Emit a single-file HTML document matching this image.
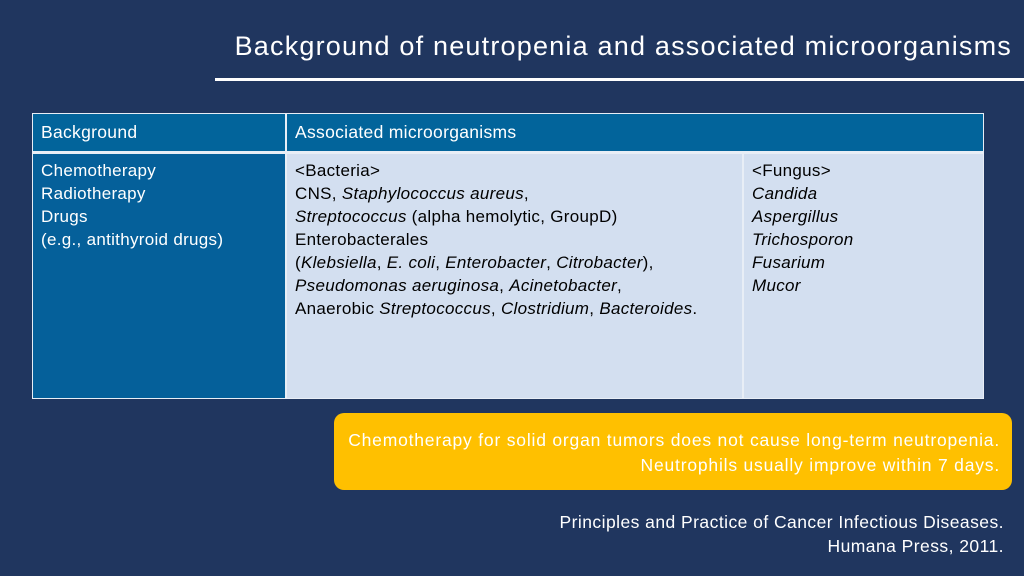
<!DOCTYPE html><html><head><style>
body{margin:0;width:1024px;height:576px;background:#20365f;position:relative;overflow:hidden;font-family:"Liberation Sans",sans-serif;color:#fff}
.t{position:absolute;right:12px;top:31px;font-size:27px;letter-spacing:1.2px;white-space:nowrap}
.u{position:absolute;left:215px;top:78px;width:809px;height:3px;background:#fff}
.c{position:absolute;box-sizing:border-box;font-size:17px;letter-spacing:0.3px;line-height:23px;padding:5px 8px;white-space:nowrap}
i{font-style:italic}
.y{position:absolute;left:334px;top:413px;width:678px;height:77px;background:#ffc000;border-radius:10px;box-sizing:border-box;text-align:right;padding:15px 12px;font-size:17.5px;letter-spacing:0.8px;line-height:25px;white-space:nowrap}
.r{position:absolute;right:20px;top:510px;text-align:right;font-size:17.5px;letter-spacing:0.45px;line-height:24px;white-space:nowrap}
</style></head><body>
<div class="t">Background of neutropenia and associated microorganisms</div>
<div class="u"></div>
<div style="position:absolute;left:32px;top:113px;width:952px;height:286px;background:#e8eef6"></div>
<div class="c" style="left:33px;top:114px;width:252px;height:37px;background:#02649b;padding-top:7px;font-size:17.5px;letter-spacing:0.3px">Background</div>
<div class="c" style="left:287px;top:114px;width:696px;height:37px;background:#02649b;padding-top:7px;font-size:17.5px;letter-spacing:0.3px">Associated microorganisms</div>
<div class="c" style="left:33px;top:154px;width:252px;height:244px;background:#05609a">Chemotherapy<br>Radiotherapy<br>Drugs<br>(e.g., antithyroid drugs)</div>
<div class="c" style="left:287px;top:154px;width:455px;height:244px;background:#d3dff0;color:#000">&lt;Bacteria&gt;<br>CNS, <i>Staphylococcus aureus</i>,<br><i>Streptococcus</i> (alpha hemolytic, GroupD)<br>Enterobacterales<br>(<i>Klebsiella</i>, <i>E. coli</i>, <i>Enterobacter</i>, <i>Citrobacter</i>),<br><i>Pseudomonas aeruginosa</i>, <i>Acinetobacter</i>,<br>Anaerobic <i>Streptococcus</i>, <i>Clostridium</i>, <i>Bacteroides</i>.</div>
<div class="c" style="left:744px;top:154px;width:239px;height:244px;background:#d3dff0;color:#000">&lt;Fungus&gt;<br><i>Candida</i><br><i>Aspergillus</i><br><i>Trichosporon</i><br><i>Fusarium</i><br><i>Mucor</i></div>
<div class="y">Chemotherapy for solid organ tumors does not cause long-term neutropenia.<br>Neutrophils usually improve within 7 days.</div>
<div class="r">Principles and Practice of Cancer Infectious Diseases.<br>Humana Press, 2011.</div>
</body></html>
